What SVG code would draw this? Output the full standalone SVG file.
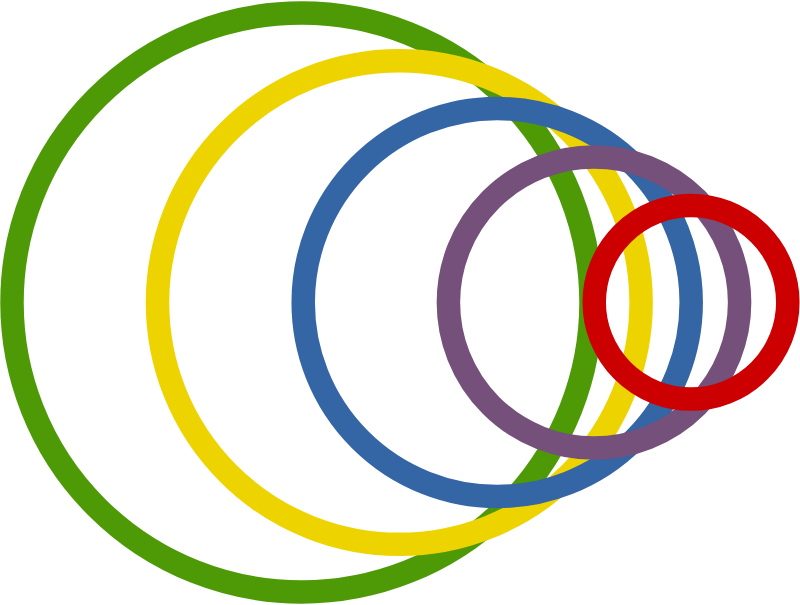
<svg xmlns="http://www.w3.org/2000/svg" width="800" height="605" viewBox="0 0 800 605">
<style>
circle{fill:none;stroke-width:23.5}
</style>
<rect width="800" height="605" fill="#ffffff"/>
<g id="green"><circle cx="301.5" cy="302.5" r="289.5" stroke="#4e9a06"/></g>
<g id="yellow"><circle cx="399.3" cy="302.5" r="241.8" stroke="#edd400"/></g>
<g id="blue"><circle cx="497.2" cy="302.5" r="194" stroke="#3465a4"/></g>
<g id="purple"><circle cx="594" cy="302.5" r="145.6" stroke="#75507b"/></g>
<g id="red"><circle cx="691" cy="302.3" r="96.8" stroke="#cc0000"/></g>
</svg>
